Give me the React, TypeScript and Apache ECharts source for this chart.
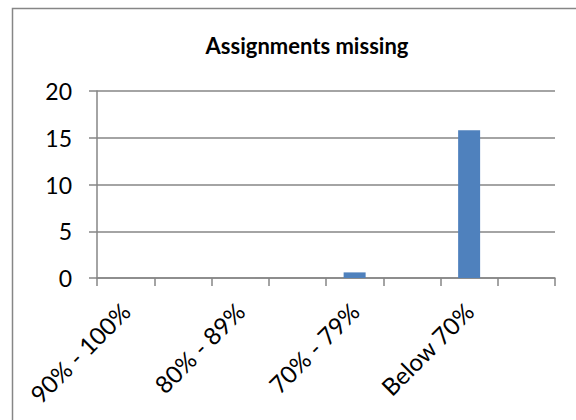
import React, { useEffect, useRef } from "react";
import * as echarts from "echarts";

const categories: string[] = ["90% - 100%", "", "80% - 89%", "", "70% - 79%", "", "Below 70%", ""];
const missingValues: number[] = [0, 0, 0, 0, 0.6, 0, 15.8, 0];
const yTicks = { min: 0, max: 20, interval: 5 };
const titleText = "Assignments missing";

const FONT = "Lato, 'Open Sans', sans-serif";
const AXIS_GRAY = "#868686";

export default function App() {
  const ref = useRef<HTMLDivElement>(null);
  useEffect(() => {
    if (!ref.current) return;
    const chart = echarts.init(ref.current, undefined, { renderer: "svg" });
    chart.setOption({
      animation: false,
      backgroundColor: "#ffffff",
      title: {
        text: titleText,
        left: 302,
        top: 29,
        textAlign: "center",
        textStyle: { fontFamily: FONT, fontWeight: "bold", fontSize: 22, color: "#000" },
      },
      grid: { left: 97, right: 21, top: 91, bottom: 142 },
      xAxis: {
        type: "category",
        data: categories,
        boundaryGap: true,
        axisLine: { show: true, lineStyle: { color: AXIS_GRAY, width: 1.5 } },
        axisTick: { show: true, length: 8, interval: 0, lineStyle: { color: AXIS_GRAY, width: 1.5 } },
        axisLabel: {
          interval: 0,
          rotate: 45,
          margin: 29,
          fontFamily: FONT,
          fontSize: 24,
          color: "#000",
        },
        splitLine: { show: false },
      },
      yAxis: {
        type: "value",
        min: yTicks.min,
        max: yTicks.max,
        interval: yTicks.interval,
        axisLine: { show: true, lineStyle: { color: AXIS_GRAY, width: 1.5 } },
        axisTick: { show: true, length: 8, lineStyle: { color: AXIS_GRAY, width: 1.5 } },
        axisLabel: { margin: 25, fontFamily: FONT, fontSize: 23, color: "#000" },
        splitLine: { show: true, lineStyle: { color: AXIS_GRAY, width: 1.5 } },
      },
      graphic: [
        {
          type: "rect",
          shape: { x: 12.5, y: 8.5, width: 620, height: 500 },
          style: { fill: "none", stroke: AXIS_GRAY, lineWidth: 1.5 },
          silent: true,
        },
      ],
      series: [
        {
          type: "bar",
          data: missingValues,
          barWidth: 22,
          itemStyle: { color: "#4F81BD" },
        },
      ],
    });
    return () => chart.dispose();
  }, []);
  return (
    <div
      ref={ref}
      style={{ position: "absolute", left: 0, top: 0, width: 576, height: 420 }}
    />
  );
}
